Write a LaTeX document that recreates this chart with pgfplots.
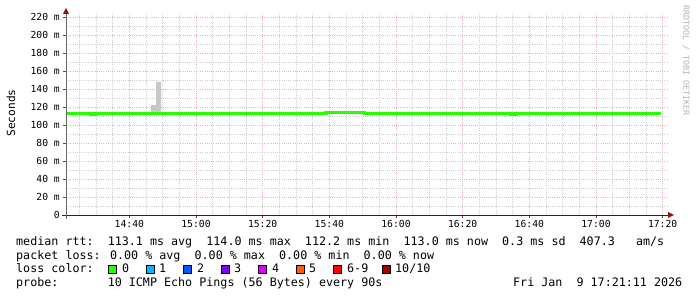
\documentclass[border=0pt]{standalone}
\usepackage{pgfplots}
\pgfplotsset{compat=1.18}
\usepackage{fontspec}
\newfontfamily\mono{DejaVu Sans Mono}
\definecolor{lgreen}{HTML}{26FF00}
\definecolor{smoke}{HTML}{C8C8C8}
\definecolor{majgrid}{HTML}{E8B4B4}
\definecolor{mingrid}{HTML}{CECECE}
\definecolor{arrowred}{HTML}{8E1212}
\definecolor{lc1}{HTML}{00B8FF}
\definecolor{lc2}{HTML}{0059FF}
\definecolor{lc3}{HTML}{7E00FF}
\definecolor{lc4}{HTML}{DD00FF}
\definecolor{lc5}{HTML}{FF5E00}
\definecolor{lc6}{HTML}{FF0000}
\definecolor{lc10}{HTML}{A10000}
\begin{document}
\begin{tikzpicture}
\useasboundingbox (0,0) rectangle (697pt,297pt);
\begin{axis}[
  at={(66pt,82pt)}, anchor=south west, scale only axis,
  width=602pt, height=201.6pt,
  xmin=21, xmax=201.6, ymin=0, ymax=224,
  axis line style={draw=none},
  xtick={40,60,80,100,120,140,160,180,200},
  xticklabels={14:40,15:00,15:20,15:40,16:00,16:20,16:40,17:00,17:20},
  minor xtick={25,30,35,45,50,55,65,70,75,85,90,95,105,110,115,125,130,135,145,150,155,165,170,175,185,190,195},
  ytick={0,20,40,60,80,100,120,140,160,180,200,220},
  yticklabels={0,20 m,40 m,60 m,80 m,100 m,120 m,140 m,160 m,180 m,200 m,220 m},
  minor ytick={10,30,50,70,90,110,130,150,170,190,210},
  grid=both,
  major grid style={draw=majgrid, line width=0.8pt, dash pattern=on 1pt off 1.2pt},
  minor grid style={draw=mingrid, line width=0.8pt, dash pattern=on 1pt off 1.2pt},
  tick align=outside, tick pos=left,
  major tick length=3pt, minor tick length=0pt,
  tick style={draw=black!70, line width=0.8pt},
  /pgf/number format/assume math mode=true,
  ticklabel style={font=\mono\fontsize{9.7}{10}\selectfont, inner sep=0pt},
  xticklabel style={anchor=north, yshift=-2pt},
  yticklabel style={anchor=east, xshift=-3pt},
]
\addplot[fill=smoke, draw=none] coordinates {(46.5,113) (46.5,122.2) (48,122.2) (48,147.8) (49.5,147.8) (49.5,113)};
\addplot[const plot, draw=lgreen, line width=3.3pt] coordinates {
(21,113.1) (27,112.6) (28.5,112.2) (30,113.1) (40.5,112.6) (43.5,113.1)
(99,113.6) (110.5,113.1) (126,112.6) (127.5,113.1) (130.5,112.6) (132,113.1)
(139.5,112.6) (141,113.1) (153,112.6) (154.5,112.2) (156,113.1) (162,112.6)
(163.5,113.1) (171,112.6) (172.5,113.1) (184.5,112.6) (186,113.1) (189,112.6)
(190.5,113.1) (196.5,112.6) (198,113.1) (199.5,113.1)};
\end{axis}
\begin{scope}[x=1pt,y=-1pt,yshift=297pt]
  % axes
  \draw[black!85, line width=0.9pt] (62,215) -- (669,215);
  \draw[black!60, line width=0.9pt] (66,219) -- (66,13);
  \fill[arrowred] (674,215) -- (668,212) -- (668,218) -- cycle;
  \fill[arrowred] (66,8) -- (63,14) -- (69,14) -- cycle;
  % labels
  \node[rotate=90, inner sep=0pt, font=\mono\fontsize{11.2}{12}\selectfont] at (11,113) {Seconds};
  \node[rotate=-90, anchor=west, inner sep=0pt, text=black!30, font=\mono\fontsize{8.3}{9}\selectfont] at (686,5) {RRDTOOL / TOBI OETIKER};
  \begin{scope}[every node/.style={anchor=base west, inner sep=0pt, font=\mono\fontsize{11.7}{12}\selectfont}]
  \node at (16,245.5) {median rtt:~~113.1 ms avg~~114.0 ms max~~112.2 ms min~~113.0 ms now~~0.3 ms sd~~407.3~~~am/s};
  \node at (16,259.2) {packet loss: 0.00 \% avg~~0.00 \% max~~0.00 \% min~~0.00 \% now};
  \node at (16,272.9) {loss color:};
  \node at (16,286.6) {probe:~~~~~~~10 ICMP Echo Pings (56 Bytes) every 90s};
  \node at (513,286.6) {Fri Jan~~9 17:21:11 2026};
  \node at (122,272.9) {0};
  \node at (159,272.9) {1};
  \node at (197,272.9) {2};
  \node at (234,272.9) {3};
  \node at (272,272.9) {4};
  \node at (309,272.9) {5};
  \node at (347,272.9) {6-9};
  \node at (395,272.9) {10/10};
  \end{scope}
  \foreach \bx/\bc in {108/lgreen,146/lc1,183/lc2,221/lc3,258/lc4,296/lc5,333/lc6,382/lc10}{
    \draw[fill=\bc, draw=black, line width=0.7pt] (\bx,265.4) rectangle (\bx+8,273.2);
  }
\end{scope}
\end{tikzpicture}
\end{document}
